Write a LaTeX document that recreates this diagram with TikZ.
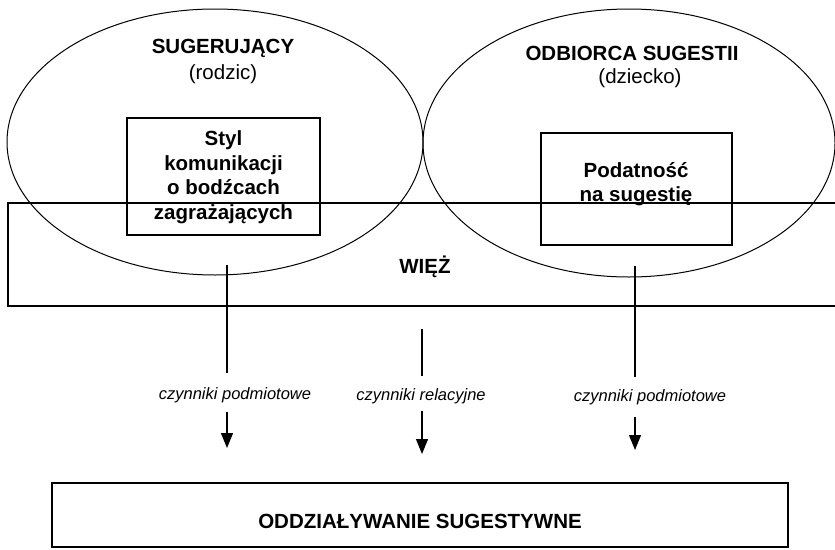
\documentclass[tikz,border=0pt]{standalone}
\usepackage{fontspec}
\setmainfont{Liberation Sans}
\usetikzlibrary{arrows.meta}
\begin{document}
\begin{tikzpicture}[x=1pt,y=-1pt,
  big/.style={font=\fontsize{20.5}{24.5}\selectfont\bfseries, inner sep=0pt},
  sub/.style={font=\fontsize{20.5}{24.5}\selectfont, inner sep=0pt},
  lab/.style={font=\fontsize{16.5}{20}\selectfont\itshape, inner sep=0pt},
  ln/.style={line width=1.2pt},
  thin ln/.style={line width=1pt},
  arr/.style={line width=1.2pt,-{Triangle[width=12pt,length=15pt]}},
  box/.style={draw,line width=1.2pt,inner sep=0pt}]
\useasboundingbox (0,0) rectangle (835,549);

% ellipses
\draw[thin ln] (215,142) ellipse [x radius=208pt, y radius=133pt];
\draw[thin ln] (629,143) ellipse [x radius=206pt, y radius=134pt];

% titles
\node[big] (sug) at (223,48) {SUGERUJĄCY};
\node[sub] (rod) at (223,74) {(rodzic)};
\node[big] (odb) at (632,53) {ODBIORCA SUGESTII};
\node[sub] (dzi) at (640,78) {(dziecko)};

% inner boxes
\node[box, minimum width=193pt, minimum height=117pt] (lbox) at (223.5,176.5) {};
\node[big, align=center] (ltext) at (223.5,177) {Styl\\komunikacji\\o bodźcach\\zagrażających};
\node[box, minimum width=191pt, minimum height=112pt] (rbox) at (636.5,189) {};
\node[big, align=center] (rtext) at (636,184) {Podatność\\na sugestię};

% WIEZ band (open on the right)
\coordinate (wtr) at (835,203);
\coordinate (wtl) at (8,203);
\coordinate (wbl) at (8,306);
\coordinate (wbr) at (835,306);
\draw[ln] (wtr) -- (wtl) -- (wbl) -- (wbr);
\node[big] (wiez) at (425,267) {WIĘŻ};

% vertical lines
\coordinate (v1a) at (227,265); \coordinate (v1b) at (227,373);
\coordinate (v2a) at (422,329); \coordinate (v2b) at (422,376);
\coordinate (v3a) at (635,266); \coordinate (v3b) at (635,377);
\draw[ln] (v1a) -- (v1b);
\draw[ln] (v2a) -- (v2b);
\draw[ln] (v3a) -- (v3b);

% labels
\node[lab] (c1) at (235,395) {czynniki podmiotowe};
\node[lab] (c2) at (421,396) {czynniki relacyjne};
\node[lab] (c3) at (650,397) {czynniki podmiotowe};

% arrows
\coordinate (a1a) at (227,412); \coordinate (a1b) at (227,448);
\coordinate (a2a) at (422,411); \coordinate (a2b) at (422,454);
\coordinate (a3a) at (635,417); \coordinate (a3b) at (635,450);
\draw[arr] (a1a) -- (a1b);
\draw[arr] (a2a) -- (a2b);
\draw[arr] (a3a) -- (a3b);

% bottom box
\node[box, minimum width=736pt, minimum height=64pt] (obox) at (420,515) {};
\node[big] (otext) at (420,521) {ODDZIAŁYWANIE SUGESTYWNE};
\end{tikzpicture}
\end{document}
